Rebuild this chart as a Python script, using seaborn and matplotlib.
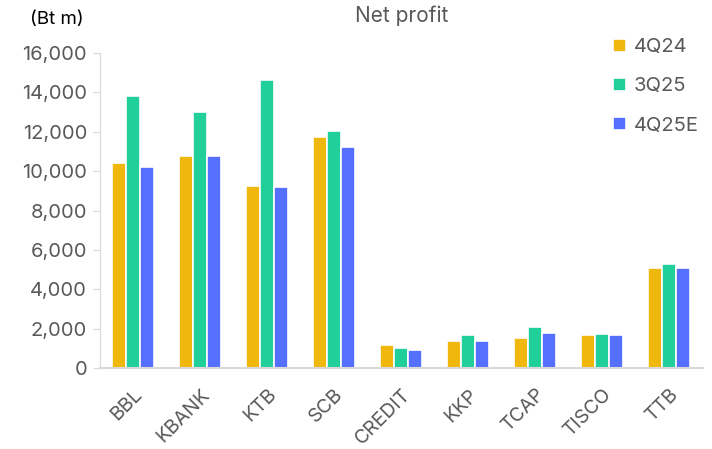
import matplotlib
matplotlib.use('Agg')
import numpy as np
import pandas as pd
import seaborn as sns
import matplotlib.pyplot as plt
from matplotlib.ticker import FuncFormatter

banks = ["BBL", "KBANK", "KTB", "SCB", "CREDIT", "KKP", "TCAP", "TISCO", "TTB"]
periods = ["4Q24", "3Q25", "4Q25E"]
q4_24 = [10400, 10770, 9260, 11710, 1180, 1400, 1520, 1690, 5070]
q3_25 = [13810, 13000, 14610, 12040, 1000, 1670, 2080, 1720, 5270]
q4_25e = [10210, 10780, 9210, 11220, 930, 1400, 1790, 1690, 5090]
colors = ["#F0B70C", "#21CF9A", "#5570FF"]

df = pd.DataFrame({
    "bank": banks * 3,
    "period": [p for p in periods for _ in banks],
    "profit": q4_24 + q3_25 + q4_25e,
})

sns.set_style("white")
plt.rcParams['font.family'] = ['Inter', 'DejaVu Sans']
grey = "#595959"

fig = plt.figure(figsize=(7.12, 4.49), dpi=100)
ax = fig.add_axes([0.14, 0.18, 0.847, 0.702])
sns.barplot(data=df, x="bank", y="profit", hue="period", palette=colors,
            saturation=1, width=0.62, edgecolor="white", linewidth=1.2, ax=ax)

ax.set_ylim(0, 16000)
ax.set_yticks(np.arange(0, 16001, 2000))
ax.yaxis.set_major_formatter(FuncFormatter(lambda v, p: f"{int(v):,}"))
ax.set_xlabel("")
ax.set_ylabel("")
for s in ["top", "right"]:
    ax.spines[s].set_visible(False)
ax.spines["left"].set_color("#d9d9d9")
ax.spines["bottom"].set_color("#d9d9d9")
ax.spines["bottom"].set_linewidth(1.5)
ax.tick_params(axis="y", left=True, length=5, color="#d9d9d9", labelsize=14.5, labelcolor=grey, pad=4)
ax.tick_params(axis="x", bottom=False, labelsize=14, labelcolor=grey, pad=9)
plt.setp(ax.get_xticklabels(), rotation=45, ha="right", rotation_mode="anchor")

ax.set_title("Net profit", fontsize=15, color=grey, pad=22)
fig.text(0.042, 0.975, "(Bt m)", fontsize=13.5, color="black", va="top")

leg = ax.legend(loc="upper left", bbox_to_anchor=(0.836, 0.955), bbox_transform=fig.transFigure,
                frameon=False, fontsize=14.5, handlelength=0.65, handleheight=0.65,
                handletextpad=0.35, labelspacing=1.05, labelcolor=grey)

fig.savefig("out.png", dpi=100)
